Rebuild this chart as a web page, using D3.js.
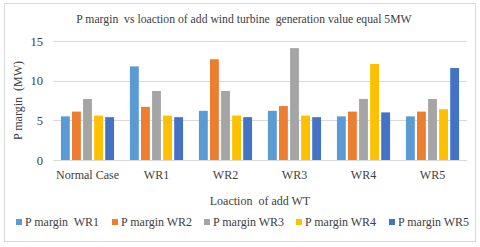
<!DOCTYPE html>
<html>
<head>
<meta charset="utf-8">
<script src="https://cdn.jsdelivr.net/npm/d3@7"></script>
<style>
  body { margin: 0; background: #fff; }
  text { font-family: "Liberation Serif", "Times New Roman", serif; fill: #404040; white-space: pre; }
</style>
</head>
<body>
<script>
var categories = ["Normal Case", "WR1", "WR2", "WR3", "WR4", "WR5"];
var seriesNames = ["P margin  WR1", "P margin WR2", "P margin WR3", "P margin WR4", "P margin WR5"];
var seriesColors = ["#5B9BD5", "#ED7D31", "#A5A5A5", "#FFC000", "#4472C4"];
var wr1 = [5.5, 11.8, 6.2, 6.2, 5.5, 5.5];
var wr2 = [6.1, 6.7, 12.7, 6.8, 6.1, 6.1];
var wr3 = [7.7, 8.7, 8.7, 14.1, 7.7, 7.7];
var wr4 = [5.6, 5.6, 5.6, 5.6, 12.1, 6.4];
var wr5 = [5.4, 5.4, 5.4, 5.4, 6.0, 11.6];
var yTicks = [0, 5, 10, 15];

var allSeries = [wr1, wr2, wr3, wr4, wr5];

var width = 480, height = 247;
var margin = {left: 53, right: 13, top: 41, bottom: 87};

var svg = d3.select("body").append("svg")
            .attr("width", width)
            .attr("height", height);

// chart frame
svg.append("rect")
   .attr("x", 4.5).attr("y", 3.5)
   .attr("width", 471).attr("height", 238)
   .attr("fill", "#fff")
   .attr("stroke", "#d9d9d9");

var x0 = d3.scaleBand()
           .domain(categories)
           .range([margin.left, width - margin.right])
           .paddingInner(0.23)
           .paddingOuter(0.115);

var x1 = d3.scaleBand()
           .domain(d3.range(seriesNames.length))
           .range([0, x0.bandwidth()])
           .paddingInner(0.2);

var y = d3.scaleLinear()
          .domain([0, 15])
          .range([height - margin.bottom, margin.top]);

// gridlines
svg.append("g")
   .selectAll("line").data(yTicks).enter().append("line")
   .attr("x1", margin.left).attr("x2", width - margin.right)
   .attr("y1", function(d){return Math.round(y(d)) + 0.5})
   .attr("y2", function(d){return Math.round(y(d)) + 0.5})
   .attr("stroke", "#d9d9d9");

// bars
var groups = svg.append("g").selectAll("g")
                .data(categories).enter().append("g")
                .attr("transform", function(d){return "translate(" + x0(d) + ",0)"});

groups.selectAll("rect")
      .data(function(d, i){ return allSeries.map(function(s, j){ return {s: j, v: s[i]}; }); })
      .enter().append("rect")
      .attr("x", function(d){return x1(d.s)})
      .attr("width", x1.bandwidth())
      .attr("y", function(d){return y(d.v)})
      .attr("height", function(d){return y(0) - y(d.v)})
      .attr("fill", function(d){return seriesColors[d.s]});

// y axis labels
var yAxis = d3.axisLeft(y).tickValues(yTicks).tickSize(0).tickPadding(8);
var yg = svg.append("g")
            .attr("transform", "translate(" + (margin.left - 2) + ",0)")
            .call(yAxis);
yg.select(".domain").remove();
yg.selectAll("text").attr("font-size", "12.5px").style("font-family", "Liberation Serif");

// x axis labels
var xAxis = d3.axisBottom(x0).tickSize(0).tickPadding(10);
var xg = svg.append("g")
            .attr("transform", "translate(0," + y(0) + ")")
            .call(xAxis);
xg.select(".domain").remove();
xg.selectAll("text").attr("font-size", "12px").style("font-family", "Liberation Serif");

// title
svg.append("text")
   .attr("x", 244).attr("y", 23)
   .attr("text-anchor", "middle")
   .attr("font-size", "11.7px")
   .text("P margin  vs loaction of add wind turbine  generation value equal 5MW");

// axis titles
svg.append("text")
   .attr("transform", "translate(22," + ((margin.top + height - margin.bottom) / 2) + ") rotate(-90)")
   .attr("text-anchor", "middle")
   .attr("font-size", "12px")
   .text("P margin  (MW)");

svg.append("text")
   .attr("x", (margin.left + width - margin.right) / 2).attr("y", 205)
   .attr("text-anchor", "middle")
   .attr("font-size", "12px")
   .text("Loaction  of add WT");

// legend
var legendX = [16, 112, 204, 296, 389];
var legend = svg.append("g").selectAll("g")
                .data(seriesNames).enter().append("g")
                .attr("transform", function(d, i){return "translate(" + legendX[i] + ",226)"});
legend.append("rect")
      .attr("x", 0).attr("y", -7)
      .attr("width", 6).attr("height", 6)
      .attr("fill", function(d, i){return seriesColors[i]});
legend.append("text")
      .attr("x", 9).attr("y", 0)
      .attr("font-size", "12px")
      .text(function(d){return d});
</script>
</body>
</html>
